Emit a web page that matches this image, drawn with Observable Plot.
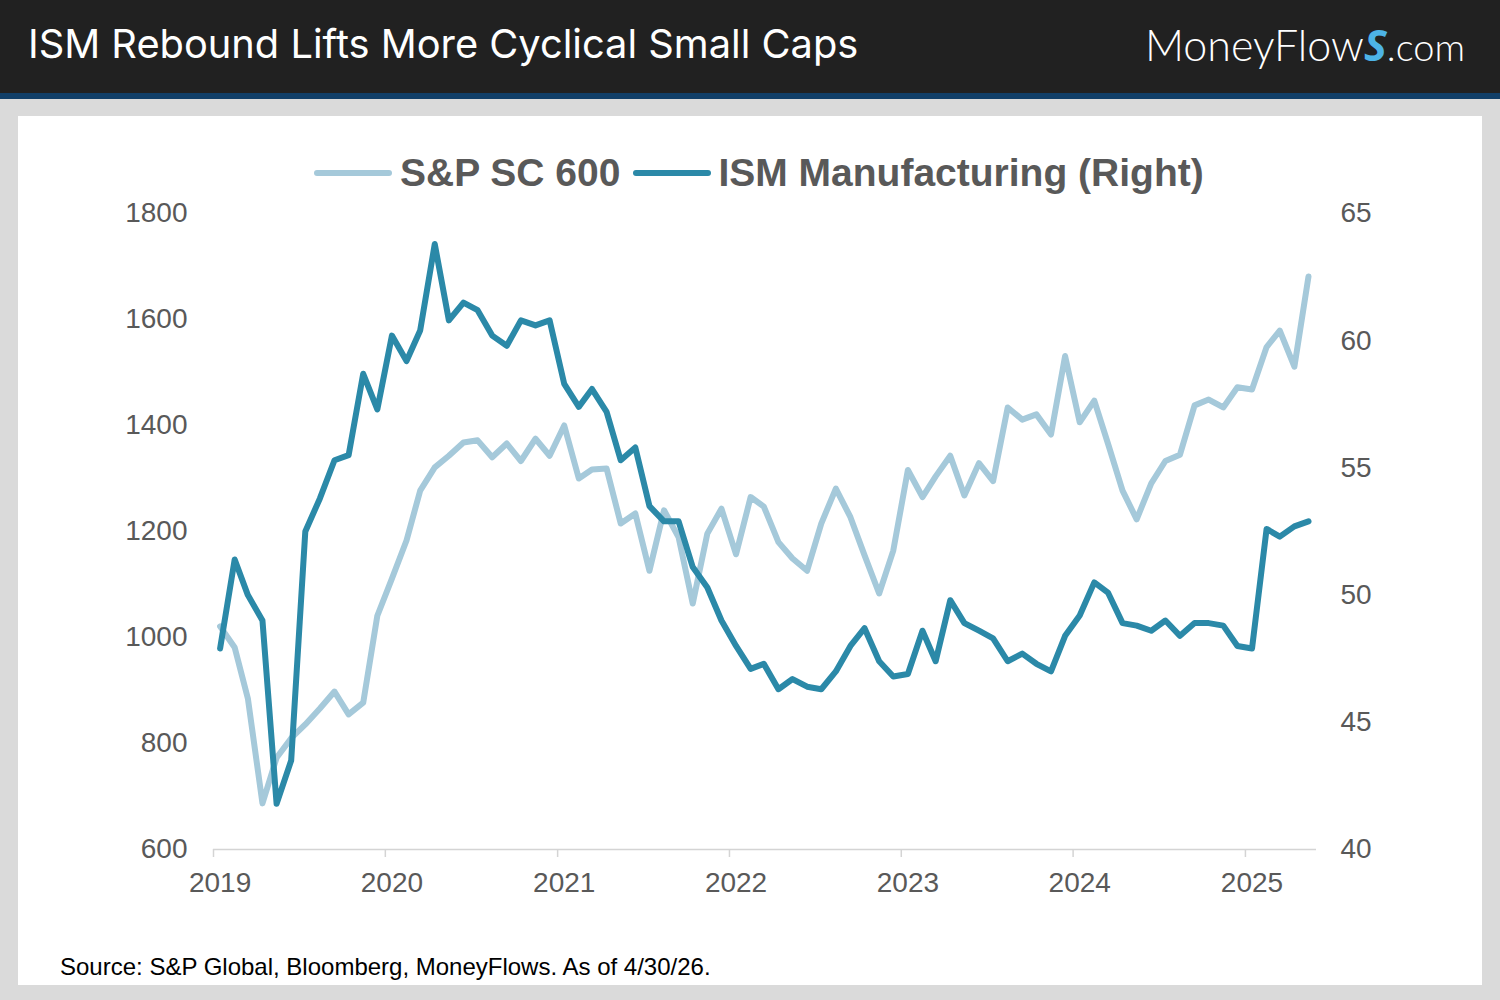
<!DOCTYPE html>
<html>
<head>
<meta charset="utf-8">
<script src="https://cdn.jsdelivr.net/npm/d3@7"></script>
<script src="https://cdn.jsdelivr.net/npm/@observablehq/plot@0.6"></script>
<style>
  html, body { margin: 0; padding: 0; }
  body { width: 1500px; height: 1000px; background: #dadada; position: relative; overflow: hidden; font-family: "Liberation Sans", Arial, sans-serif; }
  #header { position: absolute; left: 0; top: 0; width: 1500px; height: 93px; background: #212121; }
  #stripe { position: absolute; left: 0; top: 93px; width: 1500px; height: 6px; background: #113f68; }
  #title { position: absolute; left: 28px; top: 19px; color: #ffffff; font-family: Inter, "Noto Sans", sans-serif; font-size: 39.8px; font-weight: 400; line-height: 50px; white-space: nowrap; }
  #logo { position: absolute; right: 35px; top: 19px; color: #ffffff; font-family: Lato, "Open Sans", sans-serif; font-size: 43px; font-weight: 300; line-height: 52px; white-space: nowrap; }
  #logo .s { color: #4db3e6; font-style: italic; font-weight: 700; font-family: "Open Sans", sans-serif; }
  #logo .com { font-size: 38px; }
  #panel { position: absolute; left: 18px; top: 116px; width: 1464px; height: 869px; background: #ffffff; }
  #legend { position: absolute; left: 314px; top: 150px; height: 46px; display: flex; align-items: center; font-weight: 700; font-size: 39px; color: #595959; white-space: nowrap; }
  #legend .sw { display: inline-block; width: 78px; height: 6px; border-radius: 3px; }
  #chart { position: absolute; left: 18px; top: 200px; }
  #source { position: absolute; left: 60px; top: 954px; font-size: 24px; color: #000000; white-space: nowrap; line-height: 26px; }
</style>
</head>
<body>
<div id="header"></div>
<div id="stripe"></div>
<div id="title">ISM Rebound Lifts More Cyclical Small Caps</div>
<div id="logo">MoneyFlow<span class="s">S</span><span class="com">.com</span></div>
<div id="panel"></div>
<div id="legend"></div>
<div id="chart"></div>
<div id="source">Source: S&amp;P Global, Bloomberg, MoneyFlows. As of 4/30/26.</div>
<script>
// ---- Data (monthly, Jan 2019 – May 2025) ----
const startYear = 2019;
const startMonth = 0; // January

const sc600 = [
  1021, 981, 885, 687, 773, 810, 836, 866, 898, 855, 877, 1041,
  1111, 1183, 1277, 1321, 1343, 1368, 1372, 1340, 1366, 1333, 1375, 1343,
  1400, 1300, 1317, 1319, 1215, 1234, 1126, 1240, 1189, 1064, 1196, 1243,
  1157, 1265, 1247, 1180, 1149, 1126, 1215, 1281, 1227, 1155, 1083, 1164,
  1316, 1265, 1304, 1343, 1268, 1329, 1295, 1434, 1411, 1421, 1383, 1531,
  1406, 1447, 1366, 1277, 1223, 1291, 1333, 1345, 1438, 1449, 1434, 1472,
  1468, 1548, 1579, 1511, 1681
];

const ismManufacturing = [
  47.9, 51.4, 50.0, 49.0, 41.8, 43.5, 52.5, 53.8, 55.3, 55.5, 58.7, 57.3,
  60.2, 59.2, 60.4, 63.8, 60.8, 61.5, 61.2, 60.2, 59.8, 60.8, 60.6, 60.8,
  58.3, 57.4, 58.1, 57.2, 55.3, 55.8, 53.5, 52.9, 52.9, 51.1, 50.3, 49.0,
  48.0, 47.1, 47.3, 46.3, 46.7, 46.4, 46.3, 47.0, 48.0, 48.7, 47.4, 46.8,
  46.9, 48.6, 47.4, 49.8, 48.9, 48.6, 48.3, 47.4, 47.7, 47.3, 47.0, 48.4,
  49.2, 50.5, 50.1, 48.9, 48.8, 48.6, 49.0, 48.4, 48.9, 48.9, 48.8, 48.0,
  47.9, 52.6, 52.3, 52.7, 52.9
];

const yearTicks = [2019, 2020, 2021, 2022, 2023, 2024, 2025];
const leftTicks = [600, 800, 1000, 1200, 1400, 1600, 1800];
const rightTicks = [40, 45, 50, 55, 60, 65];

const seriesNames = ["S&P SC 600", "ISM Manufacturing (Right)"];
const colors = ["#a5c9da", "#2b89a8"];

// ---- Dual axis mapping: right scale (40–65) onto left scale (600–1800) ----
const leftDomain = [600, 1800];
const rightDomain = [40, 65];
const k = (leftDomain[1] - leftDomain[0]) / (rightDomain[1] - rightDomain[0]);
const toLeft = v => leftDomain[0] + (v - rightDomain[0]) * k;
const fromLeft = v => rightDomain[0] + (v - leftDomain[0]) / k;

const data = sc600.map((v, i) => ({
  date: new Date(Date.UTC(startYear, startMonth + i, 15)),
  sc: v,
  ism: ismManufacturing[i]
}));

// ---- Legend ----
const legend = document.getElementById("legend");
legend.innerHTML =
  `<span class="sw" style="background:${colors[0]}"></span>` +
  `<span style="margin-left:8px;margin-right:13px">${seriesNames[0].replace("&", "&amp;")}</span>` +
  `<span class="sw" style="background:${colors[1]}"></span>` +
  `<span style="margin-left:7px">${seriesNames[1]}</span>`;

// ---- Chart ----
const chart = Plot.plot({
  width: 1464,
  height: 709,
  marginLeft: 195,
  marginRight: 166,
  marginTop: 13,
  marginBottom: 60,
  style: { fontFamily: "'Liberation Sans', Arial, sans-serif", fontSize: "28px", color: "#595959", background: "transparent", overflow: "visible" },
  x: { type: "utc", domain: [new Date(Date.UTC(2019, 0, 1)), new Date(Date.UTC(2025, 5, 1))] },
  y: { domain: leftDomain },
  marks: [
    Plot.ruleY([leftDomain[0]], { stroke: "#d4d4d4", strokeWidth: 1.5 }),
    // year tick marks at Jan 1
    Plot.axisX(yearTicks.map(y => new Date(Date.UTC(y, 0, 1))), {
      anchor: "bottom", tickSize: 8, stroke: "#d4d4d4", strokeWidth: 1.5, text: null, label: null
    }),
    // year labels centred on the January data point
    Plot.axisX(yearTicks.map(y => new Date(Date.UTC(y, 0, 15))), {
      anchor: "bottom", tickSize: 0, tickPadding: 23, tickFormat: d => String(d.getUTCFullYear()),
      fill: "#595959", fontSize: 28, label: null
    }),
    Plot.axisY(leftTicks, { anchor: "left", tickSize: 0, tickPadding: 26, fill: "#595959", fontSize: 28, label: null, tickFormat: d => String(d) }),
    Plot.axisY(rightTicks.map(toLeft), {
      anchor: "right", tickSize: 0, tickPadding: 24, fill: "#595959", fontSize: 28, label: null,
      tickFormat: d => String(Math.round(fromLeft(d)))
    }),
    Plot.line(data, { x: "date", y: "sc", stroke: colors[0], strokeWidth: 6, strokeLinejoin: "round", strokeLinecap: "round" }),
    Plot.line(data, { x: "date", y: d => toLeft(d.ism), stroke: colors[1], strokeWidth: 6, strokeLinejoin: "round", strokeLinecap: "round" })
  ]
});
document.getElementById("chart").appendChild(chart);
</script>
</body>
</html>
